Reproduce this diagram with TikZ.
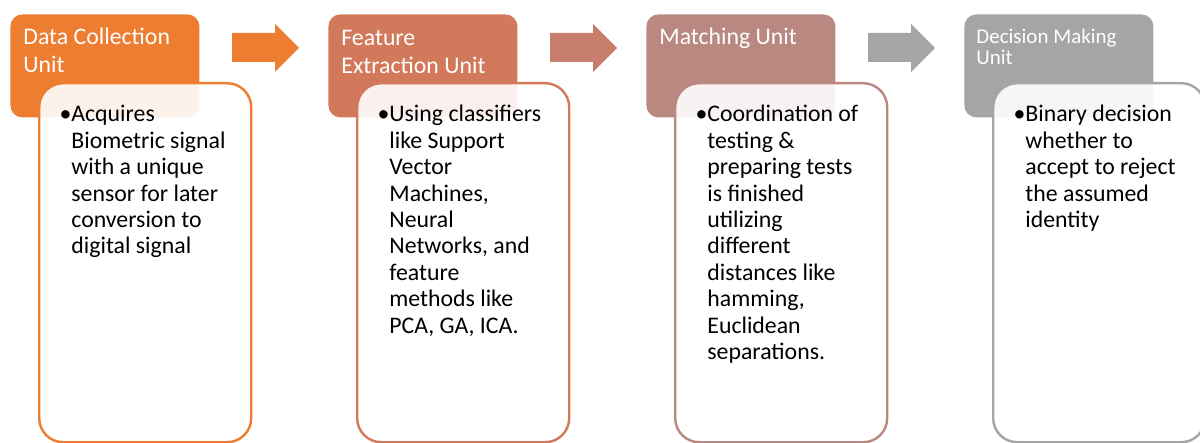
\documentclass[tikz,border=0pt]{standalone}
\usepackage{fontspec}
\setmainfont{Carlito}
\definecolor{cA}{HTML}{ED7D31}
\definecolor{cB}{HTML}{D3795B}
\definecolor{cBC}{HTML}{C77E6D}
\definecolor{cC}{HTML}{B98880}
\definecolor{cD}{HTML}{A5A5A5}
\tikzset{
  hdr/.style={rounded corners=6pt, minimum width=94.5pt, minimum height=51.5pt,
    anchor=north west, inner sep=0pt, draw=none},
  bodybox/.style={rounded corners=12pt, minimum width=106pt, minimum height=179.5pt,
    anchor=north west, inner sep=0pt, line width=1.2pt, fill=white, fill opacity=0.9},
  hdrtext/.style={anchor=base west, inner sep=0pt, text=white,
    font=\fontsize{11.9pt}{13.8pt}\selectfont},
  hdrsmall/.style={anchor=base west, inner sep=0pt, text=white,
    font=\fontsize{10.5pt}{10.5pt}\selectfont},
  bodytext/.style={anchor=base west, inner sep=0pt, text=black,
    font=\fontsize{11.9pt}{13.2pt}\selectfont},
  blockarrow/.style={draw=none}
}
\newcommand{\lines}[1]{\parbox[t]{110pt}{\raggedright\leavevmode #1}}
\newcommand{\bul}{\llap{•}}
\begin{document}
\begin{tikzpicture}[x=0.5pt,y=-0.5pt]
\useasboundingbox (0,0) rectangle (1200,443);
\clip (0,0) rectangle (1200,443);

% headers
\node[hdr, fill=cA] (h1) at (10,14) {};
\node[hdr, fill=cB] (h2) at (328,14) {};
\node[hdr, fill=cC] (h3) at (646,14) {};
\node[hdr, fill=cD] (h4) at (964,14) {};

% block arrows
\foreach \dx/\col in {0/cA, 318/cBC, 636/cD}{
  \fill[\col, blockarrow] (232+\dx,33) -- (275+\dx,33) -- (275+\dx,24) -- (299+\dx,48)
     -- (275+\dx,72) -- (275+\dx,62) -- (232+\dx,62) -- cycle;
}

% body boxes
\node[bodybox, draw=cA] (b1) at (38,82) {};
\node[bodybox, draw=cB] (b2) at (356,82) {};
\node[bodybox, draw=cC] (b3) at (674,82) {};
\node[bodybox, draw=cD] (b4) at (992,82) {};

% header texts
\node[hdrtext] (t1) at (23,45) {\lines{Data Collection\\Unit}};
\node[hdrtext] (t2) at (341,45.5) {\lines{Feature\\Extraction Unit}};
\node[hdrtext] (t3) at (659,45) {\lines{Matching Unit}};
\node[hdrsmall] (t4) at (976,44) {\lines{Decision Making\\Unit}};

% body texts
\node[bodytext] (d1) at (71,122) {\lines{\bul Acquires\\Biometric signal\\with a unique\\sensor for later\\conversion to\\digital signal}};
\node[bodytext] (d2) at (389,122) {\lines{\bul Using classifiers\\like Support\\Vector\\Machines,\\Neural\\Networks, and\\feature\\methods like\\PCA, GA, ICA.}};
\node[bodytext] (d3) at (707,122) {\lines{\bul Coordination of\\testing \&\\preparing tests\\is finished\\utilizing\\different\\distances like\\hamming,\\Euclidean\\separations.}};
\node[bodytext] (d4) at (1025,122) {\lines{\bul Binary decision\\whether to\\accept to reject\\the assumed\\identity}};
\end{tikzpicture}
\end{document}
